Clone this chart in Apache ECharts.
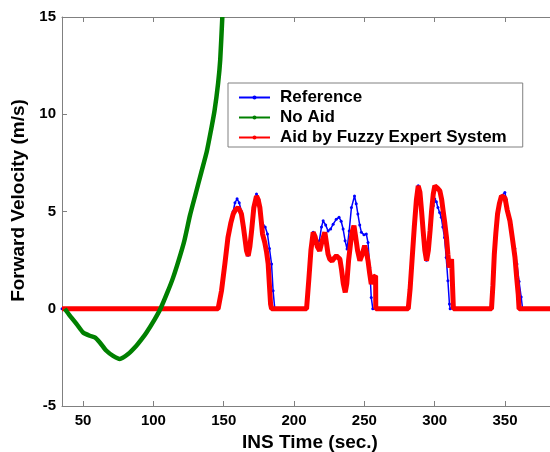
<!DOCTYPE html>
<html>
<head>
<meta charset="utf-8">
<script src="https://cdn.jsdelivr.net/npm/echarts@6/dist/echarts.min.js"></script>
<style>html,body{margin:0;padding:0;background:#fff}#c{width:550px;height:452px}</style>
</head>
<body>
<div id="c"></div>
<script>
var xTicks = [50, 100, 150, 200, 250, 300, 350];
var yTicks = [-5, 0, 5, 10, 15];
var seriesNames = ['Reference', 'No Aid', 'Aid by Fuzzy Expert System'];

var referenceData = [
  [35,0],[146,0],[148.4,0.9],[150.8,2.3],[153,3.66],[155,4.5],[156.7,5.0],[158,5.45],[159.5,5.65],[161,5.45],[162.6,5.0],[164,4.2],[165,3.66],[166.2,3.0],[167.4,2.75],[168.5,3.2],[169.8,4.0],[171.4,5.2],[173.3,5.9],[175,5.6],[176.5,4.8],[178,4.3],[179.5,4.2],[181.1,3.84],[182.5,3.1],[184,2.3],[185.1,0.92],[186.3,0],
  [209,0],[210.5,1.5],[212,3.0],[213.6,3.93],[215,3.7],[216.5,3.4],[218,3.5],[219.5,4.2],[220.7,4.52],[222.5,4.3],[224.2,4.0],[226,4.1],[227.8,4.35],[230,4.6],[232,4.7],[233.5,4.5],[234.9,4.1],[236.3,3.5],[237.7,3.07],[239.2,4.0],[240.8,5.2],[243,5.8],[244.2,5.4],[245.4,4.87],[246.7,4.3],[247.9,3.93],[249.7,3.8],[251.4,3.84],[252.6,3.4],[253.8,2.12],[254.9,0.58],[256,0],
  [281,0],[282.5,1.0],[284,2.6],[285.5,4.2],[287,5.6],[288.3,6.32],[289.5,6.0],[290.7,5.0],[291.8,4.0],[293,3.0],[294.2,2.5],[295.5,3.0],[296.7,4.0],[297.8,4.9],[299,5.3],[300.1,5.64],[301.2,5.5],[302.3,5.2],[303.5,4.95],[304.7,4.7],[305.8,4.2],[307,3.66],[308.2,2.64],[309.4,1.44],[310.5,0.24],[311,0],
  [340.4,0],[341.4,1.2],[342.4,2.8],[343.5,3.9],[344.7,4.87],[346,5.4],[347.5,5.8],[349.9,5.98],[351,5.6],[352.3,5.0],[353.5,4.52],[354.7,3.9],[356,3.4],[357,3.1],[358.5,2.3],[360,1.4],[361.5,0.6],[362.5,0],[382,0]
];

var noAidData = [
  [37,0],[40,-0.3],[45.3,-0.78],[50,-1.22],[54.8,-1.39],[58.3,-1.47],[61.9,-1.73],[66.6,-2.16],[71.3,-2.42],[76.1,-2.58],[82,-2.33],[87.9,-1.9],[91.5,-1.58],[95.1,-1.22],[101,-0.53],[105,0],[110,0.85],[114,1.6],[118,2.5],[122,3.5],[126,4.8],[130,5.9],[134,7.0],[138,8.1],[141,9.2],[143.5,10.2],[146,11.6],[147.5,12.8],[149,15]
];

var fuzzyData = [
  [35,0],[146,0],[148.4,0.92],[150.8,2.3],[153,3.66],[155,4.4],[156.7,4.87],[158.5,5.1],[160.2,5.2],[161.5,5.05],[162.6,4.87],[164,4.2],[165,3.66],[166.2,2.98],[167.4,2.72],[168.6,3.2],[169.8,4.0],[171.4,5.2],[173.3,5.8],[174.5,5.6],[175.7,5.2],[176.7,4.5],[177.6,3.84],[179.2,3.4],[180.5,2.9],[181.6,2.3],[182.5,1.2],[183.3,0.25],[184,0],
  [208.9,0],[210.5,1.5],[212,3.0],[213.6,3.93],[215,3.7],[216.5,3.2],[218.2,2.98],[220,3.5],[221.9,3.93],[223,3.4],[224.2,2.8],[225.4,2.55],[227,2.45],[228.5,2.6],[230.1,2.72],[231.5,2.65],[232.6,2.55],[233.8,2.0],[235,1.3],[236.4,0.84],[237.5,1.3],[238.8,2.5],[240.4,3.5],[241.5,4.0],[242.6,4.27],[243.8,3.7],[245.2,2.98],[246.8,2.47],[248.5,2.8],[250.2,3.24],[251.5,2.9],[252.6,2.47],[253.8,1.8],[254.9,1.27],[256,1.6],[258,1.7],[258.1,0],
  [281.2,0],[282.5,1.0],[284,2.6],[285.5,4.2],[287,5.6],[288.3,6.32],[289.5,6.0],[290.7,5.0],[291.8,4.0],[293,3.0],[294.2,2.47],[295.5,3.0],[296.7,4.0],[297.8,5.04],[299,5.9],[300.1,6.32],[302,6.2],[303.7,6.06],[305,5.6],[306,5.04],[307.2,4.4],[308.4,3.66],[309.4,2.8],[310.3,2.12],[311.2,2.3],[312,2.55],[313.2,2.64],[313.3,0],
  [340.4,0],[341.4,1.2],[342.4,2.8],[343.5,3.9],[344.7,4.87],[346,5.4],[347.5,5.8],[348.7,5.9],[350,5.7],[351.5,5.1],[353.5,4.52],[355.3,3.6],[357.1,2.64],[358.3,1.6],[359.4,0.75],[360,0],[382,0]
];

var FONT = '"Liberation Sans", Arial, sans-serif';
var axisGray = '#808080';
var chart = echarts.init(document.getElementById('c'), null, {renderer: 'canvas'});
chart.setOption({
  animation: false,
  backgroundColor: '#fff',
  grid: {left: 62, right: 0, top: 17, bottom: 46, containLabel: false, outerBoundsMode: 'none'},
  legend: {
    orient: 'vertical', left: 228, top: 83,
    data: seriesNames,
    itemWidth: 31, itemHeight: 5, itemGap: 3,
    padding: [6, 16, 1, 10],
    lineStyle: {width: 2},
    borderColor: axisGray, borderWidth: 1, backgroundColor: '#fff', borderRadius: 0,
    textStyle: {fontFamily: FONT, fontWeight: 'bold', fontSize: 17, color: '#000', padding: [0,0,0,5]}
  },
  xAxis: [{
    type: 'value', min: 35, max: 382, position: 'bottom',
    name: 'INS Time (sec.)', nameLocation: 'middle', nameGap: 24,
    nameTextStyle: {fontFamily: FONT, fontWeight: 'bold', fontSize: 19, color: '#000', padding: [0,0,0,8]},
    axisLine: {show: true, onZero: false, lineStyle: {color: axisGray, width: 1}},
    axisTick: {show: true, inside: true, length: 5, customValues: xTicks, lineStyle: {color: axisGray}},
    axisLabel: {show: true, customValues: xTicks, margin: 7, fontFamily: FONT, fontWeight: 'bold', fontSize: 15, color: '#000'},
    splitLine: {show: false}
  }, {
    type: 'value', min: 35, max: 382, position: 'top',
    axisLine: {show: true, onZero: false, lineStyle: {color: axisGray, width: 1}},
    axisTick: {show: true, inside: true, length: 5, customValues: xTicks, lineStyle: {color: axisGray}},
    axisLabel: {show: false},
    splitLine: {show: false}
  }],
  yAxis: [{
    type: 'value', min: -5, max: 15, interval: 5,
    name: 'Forward Velocity (m/s)', nameLocation: 'middle', nameGap: 26, nameRotate: 90,
    nameTextStyle: {fontFamily: FONT, fontWeight: 'bold', fontSize: 19, color: '#000', padding: [0,0,0,22]},
    axisLine: {show: true, onZero: false, lineStyle: {color: axisGray, width: 1}},
    axisTick: {show: true, inside: true, length: 5, lineStyle: {color: axisGray}},
    axisLabel: {show: true, margin: 6, fontFamily: FONT, fontWeight: 'bold', fontSize: 15, color: '#000'},
    splitLine: {show: false}
  }],
  series: [{
    name: seriesNames[0], type: 'line', data: referenceData, z: 2,
    symbol: 'circle', symbolSize: 3, showSymbol: true,
    lineStyle: {color: '#0000ff', width: 1.5},
    itemStyle: {color: '#0000ff'}
  }, {
    name: seriesNames[1], type: 'line', data: noAidData, z: 4, smooth: 0.2,
    symbol: 'circle', symbolSize: 3, showSymbol: false,
    lineStyle: {color: '#008000', width: 4.5},
    itemStyle: {color: '#008000'}
  }, {
    name: seriesNames[2], type: 'line', data: fuzzyData, z: 3,
    symbol: 'circle', symbolSize: 3, showSymbol: false,
    lineStyle: {color: '#ff0000', width: 5},
    itemStyle: {color: '#ff0000'}
  }]
});
</script>
</body>
</html>
